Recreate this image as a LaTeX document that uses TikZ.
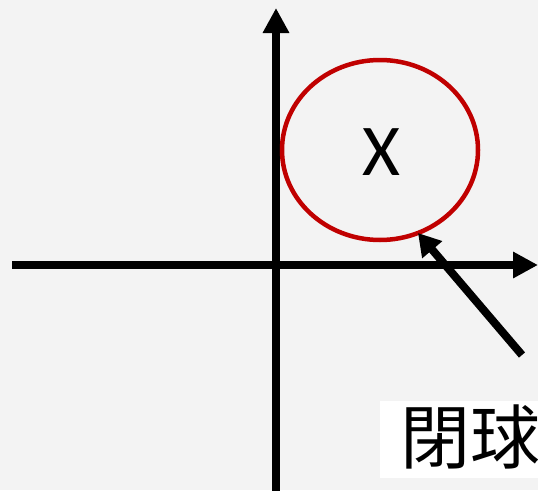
\documentclass[tikz,border=0pt]{standalone}
\usepackage{fontspec}
\setmainfont{Carlito}
\newfontfamily\cjk{Noto Sans CJK TC}
\usetikzlibrary{arrows.meta,shapes.geometric}
\definecolor{bg}{HTML}{F3F3F3}
\definecolor{ballred}{HTML}{C00000}
\tikzset{
  axis/.style={line width=8pt, -{Triangle[length=25pt,width=25pt]}},
  pointer/.style={line width=8pt, -{Triangle[length=22pt,width=25pt]}},
  ball/.style={draw=ballred, line width=4.5pt},
}
\begin{document}
\begin{tikzpicture}[x=1pt,y=-1pt]
\clip (0,0) rectangle (538,490);
\fill[bg] (0,0) rectangle (538,490);
\coordinate (xl) at (12,265);
\coordinate (xr) at (538,265);
\coordinate (yb) at (276,495);
\coordinate (yt) at (276,8);
\draw[axis] (xl) -- (xr);
\draw[axis] (yb) -- (yt);
\node[ball, ellipse, minimum width=196pt, minimum height=180pt, inner sep=0pt] (c) at (380,150) {};
\node[font=\fontsize{73}{73}\selectfont, inner sep=0pt] (x) at (381,152) {X};
\node[fill=white, anchor=north west, minimum width=170pt, minimum height=77pt, inner sep=0pt] (box) at (380,401) {};
\node[anchor=west, inner sep=0pt, font=\cjk\fontsize{70}{70}\selectfont] (lbl) at (400,437) {閉球};
\coordinate (tail) at (522,355);
\coordinate (tip) at (418,233);
\draw[pointer] (tail) -- (tip);
\end{tikzpicture}
\end{document}
